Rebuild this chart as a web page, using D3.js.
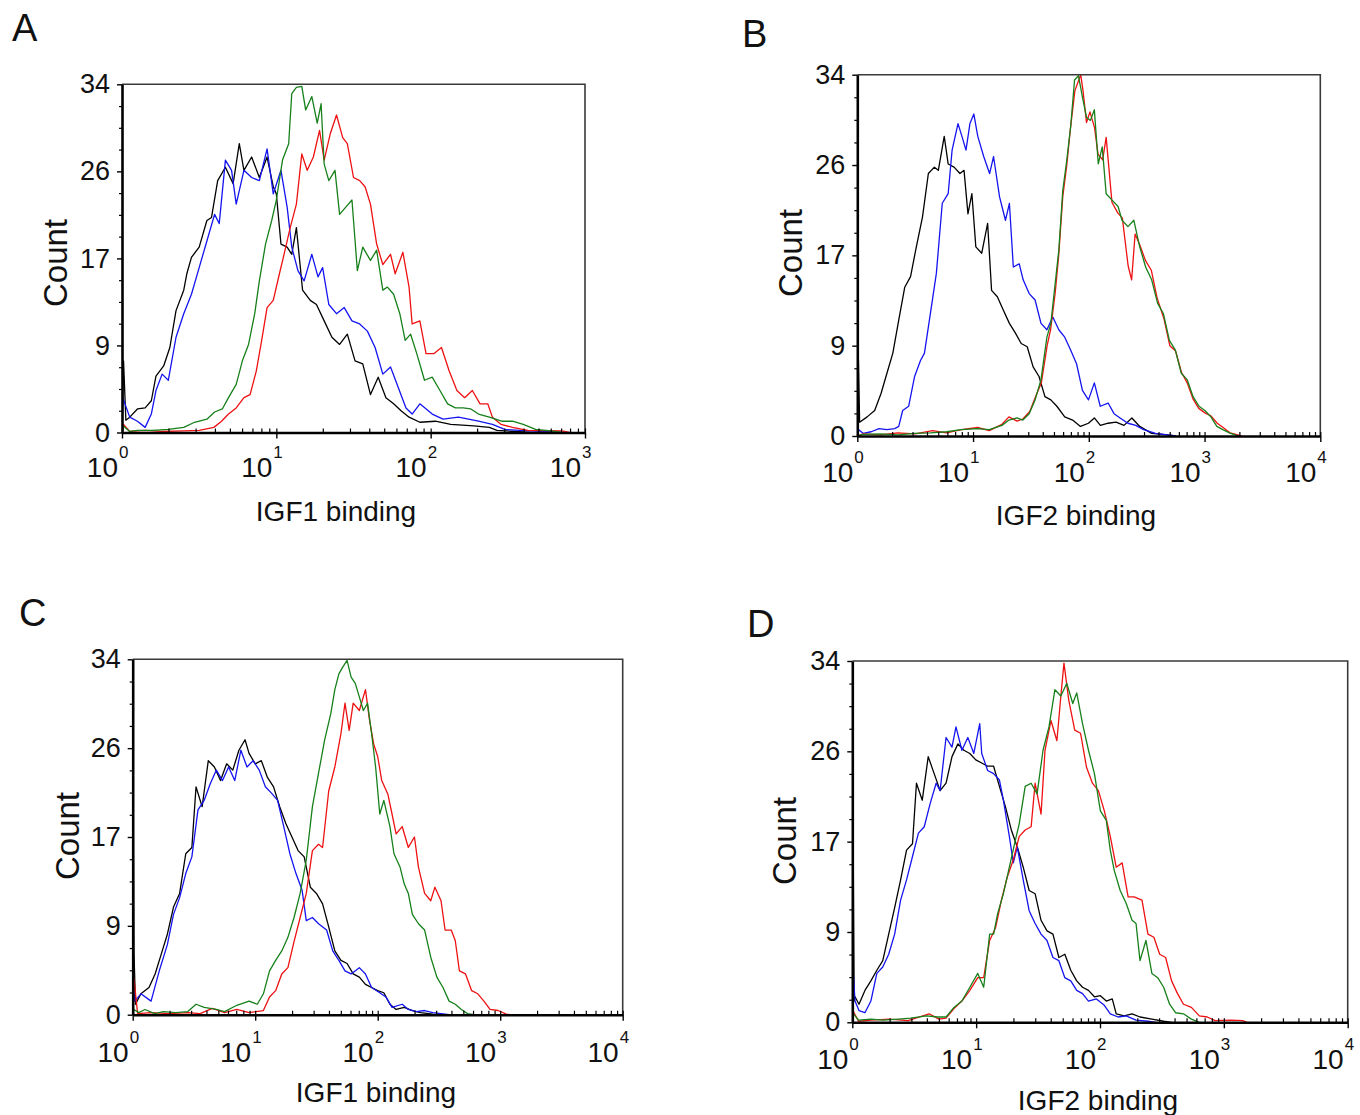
<!DOCTYPE html>
<html><head><meta charset="utf-8">
<script src="https://cdn.jsdelivr.net/npm/d3@7"></script>
<style>
body{margin:0;background:#fff}
svg{display:block}
text{font-family:"Liberation Sans",Arial,Helvetica,sans-serif;fill:#111}
</style>
</head><body>
<script>
// ---------- DATA (x = log10 of binding fluorescence, y = count) ----------
const panelLetters = ["A", "B", "C", "D"];
const xTitles = ["IGF1 binding", "IGF2 binding", "IGF1 binding", "IGF2 binding"];
const yTitle = "Count";
const xMaxExp = [3, 4, 4, 4];
const yMax = 34;
const yTickValues = [0, 8.5, 17, 25.5, 34];
const yTickLabels = ["0", "9", "17", "26", "34"];
const xTickBase = "10";
const seriesNames = ["black", "blue", "red", "green"];
const seriesColors = ["#000000", "#1414f0", "#ee1111", "#16801a"];

const A_black = [[0,0],[0.01,7.0],[0.025,1.2],[0.05,1.5],[0.10,2.3],[0.15,2.4],[0.19,3.1],[0.22,5.5],[0.27,6.5],[0.31,8.3],[0.35,11.9],[0.40,13.9],[0.42,15.5],[0.45,17.1],[0.50,18.1],[0.55,20.7],[0.58,21.0],[0.62,24.6],[0.67,25.9],[0.72,24.3],[0.76,28.2],[0.79,25.6],[0.84,26.9],[0.89,24.9],[0.94,26.9],[0.98,24.0],[1.00,23.3],[1.03,18.4],[1.07,18.1],[1.10,17.4],[1.13,20.0],[1.17,13.9],[1.22,12.9],[1.26,12.5],[1.31,10.9],[1.36,9.3],[1.41,8.6],[1.46,9.6],[1.51,7.0],[1.56,6.7],[1.61,3.7],[1.66,5.4],[1.71,3.4],[1.76,2.8],[1.81,2.1],[1.86,1.5],[1.93,1.0],[2.03,1.1],[2.13,0.8],[2.28,0.65],[2.38,0.5],[2.43,0.2],[2.55,0.1],[2.65,0]];
const A_blue = [[0,0],[0.005,3.4],[0.05,1.5],[0.10,1.1],[0.15,0.5],[0.19,1.8],[0.22,4.1],[0.26,5.7],[0.30,5.1],[0.35,9.3],[0.40,11.6],[0.45,13.5],[0.50,16.1],[0.55,18.7],[0.60,21.3],[0.63,20.4],[0.67,26.6],[0.71,25.6],[0.74,22.3],[0.79,25.6],[0.84,24.9],[0.89,24.6],[0.94,27.7],[0.98,23.3],[1.03,25.6],[1.07,22.0],[1.10,18.1],[1.14,15.8],[1.18,14.8],[1.23,17.4],[1.27,15.2],[1.30,16.1],[1.34,12.5],[1.39,11.6],[1.44,12.2],[1.49,10.9],[1.54,10.6],[1.59,9.9],[1.64,8.3],[1.69,5.7],[1.74,6.4],[1.79,4.4],[1.84,2.4],[1.88,1.8],[1.93,2.8],[2.01,1.8],[2.08,1.3],[2.18,1.5],[2.31,1.1],[2.40,0.8],[2.48,0.3],[2.63,0.15],[2.75,0.1],[2.85,0]];
const A_red = [[0,0],[0.01,0.8],[0.05,0.1],[0.15,0.2],[0.25,0.1],[0.40,0.15],[0.50,0.2],[0.595,0.5],[0.645,1.1],[0.69,1.8],[0.74,2.4],[0.79,3.4],[0.83,3.7],[0.87,6.0],[0.905,9.0],[0.94,12.2],[0.98,12.9],[1.02,15.5],[1.05,17.4],[1.09,20.0],[1.13,22.3],[1.165,27.2],[1.20,25.6],[1.24,26.9],[1.28,29.5],[1.31,26.6],[1.35,29.2],[1.39,31.0],[1.43,28.8],[1.46,28.2],[1.50,24.9],[1.54,24.6],[1.575,24.0],[1.61,22.3],[1.65,18.4],[1.69,16.4],[1.74,17.4],[1.77,15.5],[1.82,17.6],[1.86,14.2],[1.88,10.6],[1.93,10.9],[1.97,7.7],[2.02,7.7],[2.07,8.3],[2.12,6.0],[2.17,4.1],[2.22,3.4],[2.27,4.1],[2.32,2.8],[2.37,2.8],[2.40,1.5],[2.455,0.8],[2.53,0.5],[2.63,0.2],[2.85,0.15],[2.9,0]];
const A_green = [[0,0],[0.01,0.6],[0.05,0.1],[0.10,0.2],[0.20,0.2],[0.30,0.3],[0.40,0.5],[0.47,1.0],[0.55,1.3],[0.60,2.0],[0.65,2.3],[0.69,3.4],[0.74,4.7],[0.78,7.0],[0.82,8.6],[0.86,11.6],[0.89,14.8],[0.93,18.4],[0.97,20.7],[1.00,22.7],[1.04,26.6],[1.08,28.2],[1.10,33.1],[1.13,33.7],[1.165,33.8],[1.19,31.5],[1.23,32.8],[1.265,30.2],[1.29,32.1],[1.31,26.2],[1.34,24.6],[1.38,25.6],[1.41,21.3],[1.45,22.0],[1.49,22.7],[1.525,15.8],[1.56,18.1],[1.61,16.8],[1.65,17.8],[1.69,13.9],[1.72,14.2],[1.76,13.5],[1.80,11.6],[1.835,9.0],[1.87,9.6],[1.91,7.7],[1.96,5.1],[2.01,5.4],[2.06,4.1],[2.11,2.8],[2.16,2.4],[2.21,2.4],[2.26,2.3],[2.31,1.8],[2.38,1.5],[2.46,1.1],[2.53,1.1],[2.60,0.8],[2.68,0.3],[2.78,0.15],[2.85,0]];

const B_black = [[0,0],[0.01,7.1],[0.02,1.3],[0.085,1.8],[0.15,2.4],[0.205,4.0],[0.256,5.9],[0.307,7.8],[0.358,10.9],[0.41,14.0],[0.46,15.0],[0.51,17.8],[0.563,20.6],[0.614,24.7],[0.666,25.3],[0.70,25.0],[0.751,28.2],[0.785,25.6],[0.836,25.3],[0.887,24.7],[0.922,25.0],[0.956,20.9],[0.99,22.8],[1.024,17.8],[1.075,17.2],[1.126,20.0],[1.16,13.7],[1.21,13.1],[1.263,11.8],[1.314,10.6],[1.365,9.7],[1.416,8.7],[1.468,8.4],[1.519,6.5],[1.57,5.6],[1.621,3.7],[1.672,3.4],[1.724,2.8],[1.792,1.8],[1.86,1.5],[1.928,0.9],[1.997,1.2],[2.048,1.7],[2.10,1.0],[2.167,1.2],[2.235,1.3],[2.304,1.0],[2.372,1.7],[2.44,0.9],[2.543,0.25],[2.68,0.1],[2.75,0]];
const B_blue = [[0,0],[0.01,0.6],[0.05,0.25],[0.12,0.4],[0.188,0.7],[0.256,0.6],[0.324,0.7],[0.358,0.9],[0.392,2.4],[0.444,2.8],[0.495,5.6],[0.546,7.1],[0.58,7.8],[0.631,11.5],[0.683,15.3],[0.734,21.9],[0.785,22.8],[0.819,26.9],[0.87,29.4],[0.904,28.2],[0.939,26.9],[0.973,29.4],[1.007,30.3],[1.041,28.2],[1.092,26.3],[1.143,24.7],[1.177,26.3],[1.229,22.5],[1.28,20.3],[1.314,21.9],[1.348,15.9],[1.399,16.2],[1.433,14.7],[1.485,13.4],[1.536,12.8],[1.587,10.6],[1.638,10.0],[1.689,11.2],[1.741,10.0],[1.792,9.3],[1.843,8.1],[1.894,6.8],[1.945,4.3],[1.997,3.4],[2.048,5.0],[2.099,2.8],[2.167,3.1],[2.218,2.1],[2.27,1.7],[2.338,1.2],[2.406,1.0],[2.474,0.6],[2.577,0.25],[2.679,0.1],[2.75,0]];
const B_red = [[0,0],[0.05,0.2],[0.2,0.1],[0.35,0.3],[0.5,0.2],[0.65,0.5],[0.77,0.3],[0.9,0.6],[1.04,0.8],[1.14,0.5],[1.25,1.1],[1.31,1.8],[1.38,1.4],[1.43,1.6],[1.49,2.3],[1.54,3.7],[1.59,5.0],[1.64,8.5],[1.67,10.0],[1.71,13.5],[1.74,17.0],[1.775,22.5],[1.81,25.5],[1.84,28.8],[1.88,32.5],[1.93,34.0],[1.95,32.5],[1.98,29.5],[2.01,30.5],[2.05,29.0],[2.08,26.5],[2.12,26.0],[2.15,28.1],[2.20,22.0],[2.25,21.0],[2.29,20.5],[2.34,16.0],[2.37,14.7],[2.40,19.0],[2.44,18.0],[2.49,16.5],[2.54,15.6],[2.59,13.0],[2.65,11.0],[2.70,8.5],[2.75,8.0],[2.80,6.0],[2.85,5.0],[2.90,3.5],[2.95,2.6],[3.00,2.2],[3.055,1.9],[3.11,1.2],[3.16,0.8],[3.22,0.3],[3.27,0.15],[3.32,0]];
const B_green = [[0,0],[0.05,0.15],[0.2,0.2],[0.35,0.1],[0.495,0.25],[0.63,0.3],[0.77,0.4],[0.90,0.6],[1.04,0.7],[1.14,0.6],[1.25,1.0],[1.31,1.5],[1.38,1.7],[1.43,1.5],[1.485,2.1],[1.536,3.4],[1.587,5.3],[1.638,9.3],[1.672,10.6],[1.706,14.0],[1.741,17.5],[1.775,23.1],[1.809,25.9],[1.843,29.1],[1.877,33.5],[1.911,33.9],[1.945,31.9],[1.98,30.0],[2.014,29.7],[2.048,30.7],[2.082,25.6],[2.116,27.2],[2.15,22.8],[2.201,22.2],[2.253,21.6],[2.287,20.3],[2.338,19.7],[2.389,20.3],[2.44,17.8],[2.491,15.9],[2.543,14.7],[2.594,12.5],[2.645,11.5],[2.696,9.0],[2.747,8.1],[2.799,5.9],[2.85,5.3],[2.901,3.7],[2.952,2.8],[3.003,2.4],[3.055,1.8],[3.106,0.9],[3.157,0.6],[3.225,0.25],[3.294,0]];

const C_black = [[0,0],[0.005,18.5],[0.01,6.1],[0.023,1.0],[0.067,2.0],[0.133,2.6],[0.183,3.9],[0.233,5.8],[0.283,7.7],[0.333,10.3],[0.383,11.6],[0.433,15.4],[0.483,16.0],[0.517,21.8],[0.567,19.9],[0.617,24.3],[0.667,23.7],[0.717,22.4],[0.767,24.0],[0.817,23.4],[0.867,25.3],[0.917,26.3],[0.95,25.0],[1.0,24.0],[1.05,24.3],[1.1,22.7],[1.15,21.8],[1.2,19.9],[1.25,18.3],[1.3,17.0],[1.35,15.7],[1.4,15.1],[1.45,12.2],[1.5,11.6],[1.55,10.6],[1.6,8.4],[1.65,6.1],[1.7,5.2],[1.75,4.9],[1.8,3.9],[1.85,3.6],[1.9,2.9],[1.95,2.6],[2.0,2.3],[2.05,2.1],[2.1,1.0],[2.15,0.5],[2.217,0.7],[2.283,0.4],[2.35,0.2],[2.45,0.06],[2.517,0]];
const C_blue = [[0,0],[0.005,3.0],[0.017,1.3],[0.067,2.0],[0.15,1.3],[0.217,4.2],[0.283,6.7],[0.333,9.6],[0.383,11.2],[0.433,13.5],[0.483,15.1],[0.533,19.6],[0.583,20.5],[0.633,22.1],[0.683,23.4],[0.733,22.4],[0.783,23.7],[0.833,22.4],[0.883,25.3],[0.933,23.7],[0.983,24.3],[1.033,23.4],[1.083,21.8],[1.133,21.2],[1.183,20.5],[1.233,18.0],[1.283,15.4],[1.333,13.5],[1.383,11.9],[1.417,9.0],[1.467,9.3],[1.517,8.7],[1.583,8.1],[1.633,6.1],[1.683,5.2],[1.733,4.2],[1.783,3.9],[1.85,4.5],[1.9,3.9],[1.95,2.6],[2.017,2.1],[2.067,1.7],[2.117,0.7],[2.2,1.0],[2.25,0.5],[2.317,0.3],[2.383,0.4],[2.45,0.2],[2.55,0.05],[2.583,0]];
const C_red = [[0,0],[0.01,3.5],[0.04,0.1],[0.15,0.2],[0.3,0.1],[0.45,0.2],[0.55,0.1],[0.65,0.6],[0.75,0.2],[0.85,0.5],[0.95,0.2],[1.067,0.4],[1.117,1.7],[1.167,2.3],[1.217,3.9],[1.267,4.5],[1.317,7.0],[1.367,9.3],[1.417,11.6],[1.467,15.7],[1.517,16.3],[1.55,16.0],[1.6,21.4],[1.65,23.7],[1.7,26.9],[1.733,29.8],[1.767,27.2],[1.8,29.8],[1.85,29.1],[1.9,31.1],[1.933,28.2],[1.967,25.9],[2.0,24.7],[2.033,22.4],[2.083,21.1],[2.117,19.2],[2.15,17.3],[2.2,18.0],[2.25,16.0],[2.3,17.0],[2.333,14.1],[2.383,11.6],[2.433,10.9],[2.467,12.2],[2.517,10.9],[2.55,8.1],[2.6,8.1],[2.633,7.1],[2.667,4.2],[2.717,3.9],[2.767,2.3],[2.817,2.0],[2.867,1.3],[2.917,0.5],[2.983,0.4],[3.05,0.05],[3.083,0]];
const C_green = [[0,0],[0.01,0.5],[0.05,0.2],[0.1,0.5],[0.18,0.1],[0.25,0.3],[0.35,0.2],[0.45,0.3],[0.517,1.0],[0.583,0.7],[0.683,0.5],[0.75,0.3],[0.85,0.9],[0.95,1.3],[1.017,1.0],[1.067,2.0],[1.117,4.2],[1.167,5.2],[1.217,6.1],[1.267,7.4],[1.317,9.3],[1.367,11.6],[1.417,14.8],[1.467,19.9],[1.517,23.1],[1.567,26.3],[1.617,28.8],[1.65,31.1],[1.683,32.6],[1.717,33.3],[1.75,33.9],[1.783,32.3],[1.817,31.7],[1.85,30.4],[1.883,29.1],[1.917,29.8],[1.95,26.9],[1.983,23.7],[2.017,19.2],[2.05,20.5],[2.1,18.0],[2.133,15.4],[2.183,14.1],[2.217,12.5],[2.25,11.6],[2.283,9.6],[2.333,8.7],[2.383,8.1],[2.433,5.5],[2.483,3.6],[2.533,2.6],[2.583,1.3],[2.633,1.0],[2.683,0.5],[2.733,0.1],[2.783,0]];

const D_black = [[0,0],[0.006,19.0],[0.015,2.0],[0.022,2.4],[0.054,1.7],[0.102,3.0],[0.15,3.9],[0.198,4.9],[0.246,5.8],[0.294,8.3],[0.342,10.8],[0.39,13.4],[0.438,16.2],[0.486,16.8],[0.518,22.5],[0.565,20.9],[0.613,25.0],[0.661,23.4],[0.709,21.8],[0.757,22.5],[0.805,25.0],[0.853,26.2],[0.901,25.6],[0.949,25.3],[0.997,24.7],[1.045,24.4],[1.093,24.1],[1.141,24.1],[1.188,22.2],[1.236,20.3],[1.284,18.1],[1.332,16.5],[1.38,14.6],[1.428,12.4],[1.476,12.1],[1.524,9.6],[1.572,8.6],[1.62,8.3],[1.668,6.1],[1.716,6.4],[1.764,4.9],[1.812,3.9],[1.859,3.3],[1.907,3.0],[1.955,2.4],[2.003,2.5],[2.051,2.0],[2.099,2.2],[2.131,0.8],[2.195,0.6],[2.259,0.8],[2.323,0.5],[2.419,0.3],[2.514,0.1],[2.578,0]];
const D_blue = [[0,0],[0.006,5.0],[0.022,2.0],[0.054,1.1],[0.102,0.9],[0.15,2.0],[0.198,4.6],[0.246,5.2],[0.294,6.4],[0.342,8.3],[0.39,11.5],[0.438,13.4],[0.486,15.6],[0.534,17.8],[0.581,18.4],[0.629,20.6],[0.677,22.5],[0.709,21.8],[0.757,26.8],[0.805,25.9],[0.837,27.8],[0.885,25.6],[0.933,26.8],[0.981,25.3],[1.029,28.1],[1.045,25.3],[1.093,23.7],[1.141,23.4],[1.188,22.8],[1.22,20.9],[1.268,17.5],[1.3,15.0],[1.332,16.5],[1.38,13.4],[1.428,10.5],[1.476,9.3],[1.524,8.3],[1.572,7.7],[1.62,6.1],[1.668,5.8],[1.716,4.2],[1.764,3.9],[1.812,3.0],[1.859,2.7],[1.907,2.0],[1.971,2.2],[2.035,1.6],[2.083,0.8],[2.147,0.5],[2.211,0.6],[2.291,0.2],[2.387,0.1],[2.45,0]];
const D_red = [[0,0],[0.01,1.0],[0.05,0.1],[0.15,0.2],[0.3,0.3],[0.45,0.15],[0.62,0.8],[0.7,0.3],[0.757,0.4],[0.821,1.3],[0.885,2.0],[0.949,3.0],[1.013,4.2],[1.061,4.2],[1.109,7.7],[1.157,8.9],[1.204,11.5],[1.252,13.7],[1.3,15.3],[1.348,17.5],[1.396,18.1],[1.444,18.4],[1.476,22.5],[1.524,19.6],[1.556,25.6],[1.604,28.4],[1.652,26.5],[1.684,30.7],[1.709,33.8],[1.748,30.3],[1.796,27.5],[1.843,27.2],[1.891,24.0],[1.939,22.5],[1.987,21.8],[2.035,19.9],[2.083,17.5],[2.131,14.6],[2.179,15.0],[2.227,11.8],[2.275,11.8],[2.339,11.5],[2.387,8.3],[2.435,8.0],[2.482,6.4],[2.53,6.1],[2.578,3.9],[2.626,2.7],[2.674,1.7],[2.738,1.4],[2.802,0.6],[2.866,0.5],[2.93,0.15],[3.058,0.2],[3.153,0.15],[3.185,0]];
const D_green = [[0,0],[0.01,0.8],[0.05,0.2],[0.15,0.3],[0.25,0.2],[0.374,0.3],[0.47,0.4],[0.6,0.6],[0.69,0.5],[0.757,0.5],[0.821,1.4],[0.885,2.0],[0.949,3.3],[1.013,4.6],[1.061,3.3],[1.109,8.3],[1.141,8.3],[1.173,10.2],[1.22,12.1],[1.268,14.6],[1.316,17.1],[1.348,18.7],[1.396,22.2],[1.444,22.5],[1.492,21.5],[1.54,25.6],[1.588,27.8],[1.636,31.3],[1.684,30.7],[1.732,31.9],[1.78,30.0],[1.812,31.0],[1.859,28.1],[1.907,25.6],[1.955,23.4],[2.003,19.9],[2.051,19.0],[2.083,16.2],[2.115,14.3],[2.163,12.4],[2.211,11.2],[2.259,9.6],[2.291,9.3],[2.323,5.8],[2.371,7.7],[2.419,4.6],[2.466,4.2],[2.514,3.3],[2.562,1.7],[2.61,0.9],[2.674,0.8],[2.738,0.3],[2.802,0]];

const panelSeries = [
  [A_black, A_blue, A_red, A_green],
  [B_black, B_blue, B_red, B_green],
  [C_black, C_blue, C_red, C_green],
  [D_black, D_blue, D_red, D_green]
];

// ---------- LAYOUT ----------
const layout = [
  {left:122,   right:585,    top:84.3,  bottom:432.5,  letter:[12,41],   count:[55,263],  title:[336,521],   xlab:44},
  {left:857.3, right:1320.3, top:74.7,  bottom:436,    letter:[742,47],  count:[790,253], title:[1076,525],  xlab:46},
  {left:132.7, right:622.7,  top:659.3, bottom:1014.7, letter:[19,626],  count:[67,836],  title:[376,1102],  xlab:47},
  {left:852.3, right:1347.7, top:661,   bottom:1022.3, letter:[747,637], count:[784,841], title:[1098,1110], xlab:47}
];

const svg = d3.select("body").append("svg").attr("width", 1360).attr("height", 1115);

panelLetters.forEach((letter, i) => {
  const L = layout[i];
  const x = d3.scaleLog().domain([1, Math.pow(10, xMaxExp[i])]).range([L.left, L.right]);
  const y = d3.scaleLinear().domain([0, yMax]).range([L.bottom, L.top]);
  const g = svg.append("g");

  const clipId = "clip" + i;
  g.append("clipPath").attr("id", clipId).append("rect")
    .attr("x", x.range()[0]).attr("y", y.range()[1] - 1)
    .attr("width", x.range()[1] - x.range()[0]).attr("height", y.range()[0] - y.range()[1] + 1);

  const line = d3.line().x(d => x(Math.pow(10, d[0]))).y(d => y(d[1]));
  panelSeries[i].forEach((s, k) => {
    g.append("path").attr("d", line(s)).attr("fill", "none")
      .attr("stroke", seriesColors[k]).attr("stroke-width", 1.3)
      .attr("stroke-linejoin", "round").attr("clip-path", `url(#${clipId})`);
  });

  // frame (top and right)
  g.append("path")
    .attr("d", `M${x.range()[0]},${y.range()[1]}H${x.range()[1]}V${y.range()[0]}`)
    .attr("fill", "none").attr("stroke", "#3a3a3a").attr("stroke-width", 1.6);

  // Y axis
  const ya = g.append("g").attr("transform", `translate(${x.range()[0]},0)`)
    .call(d3.axisLeft(y).tickValues(yTickValues).tickFormat((d, j) => yTickLabels[j])
      .tickSizeInner(5).tickSizeOuter(0).tickPadding(7));
  ya.select(".domain").attr("stroke", "#000").attr("stroke-width", 2.6);
  ya.selectAll(".tick line").attr("stroke", "#000").attr("stroke-width", 1.4);
  ya.selectAll(".tick text").attr("font-size", 27).attr("fill", "#111")
    .attr("font-family", '"Liberation Sans",Arial,sans-serif');
  const yMinor = d3.range(17).filter(k => k % 4 !== 0).map(k => k * yMax / 16);
  const ym = g.append("g").attr("transform", `translate(${x.range()[0]},0)`)
    .call(d3.axisLeft(y).tickValues(yMinor).tickFormat("").tickSizeInner(3).tickSizeOuter(0));
  ym.select(".domain").remove();
  ym.selectAll(".tick line").attr("stroke", "#000").attr("stroke-width", 1.2);

  // X axis
  const majors = d3.range(0, xMaxExp[i] + 1).map(e => Math.pow(10, e));
  const minors = [];
  d3.range(0, xMaxExp[i]).forEach(e => d3.range(2, 10).forEach(m => minors.push(m * Math.pow(10, e))));
  const xa = g.append("g").attr("transform", `translate(0,${y.range()[0]})`)
    .call(d3.axisBottom(x).tickValues(majors).tickFormat("").tickSizeInner(6).tickSizeOuter(0));
  xa.select(".domain").attr("stroke", "#000").attr("stroke-width", 2.6);
  xa.selectAll(".tick line").attr("stroke", "#000").attr("stroke-width", 1.4);
  const xi = g.append("g").attr("transform", `translate(0,${y.range()[0]})`)
    .call(d3.axisBottom(x).tickValues(majors.concat(minors)).tickFormat("").tickSizeInner(-4).tickSizeOuter(0));
  xi.select(".domain").remove();
  xi.selectAll(".tick line").attr("stroke", "#000").attr("stroke-width", 1.2);

  majors.forEach((v, e) => {
    g.append("text").attr("x", x(v) - 4).attr("y", y.range()[0] + L.xlab)
      .attr("text-anchor", "end").attr("font-size", 28).text(xTickBase);
    g.append("text").attr("x", x(v) - 3).attr("y", y.range()[0] + L.xlab - 19)
      .attr("text-anchor", "start").attr("font-size", 17).text(String(e));
  });

  // titles
  g.append("text").attr("x", L.title[0]).attr("y", L.title[1])
    .attr("text-anchor", "middle").attr("font-size", 28).text(xTitles[i]);
  g.append("text").attr("transform", `translate(${L.count[0]},${L.count[1]}) rotate(-90)`)
    .attr("text-anchor", "middle").attr("dy", "0.36em").attr("font-size", 33).text(yTitle);
  g.append("text").attr("x", L.letter[0]).attr("y", L.letter[1])
    .attr("font-size", 38).text(letter);
});
</script>
</body></html>
